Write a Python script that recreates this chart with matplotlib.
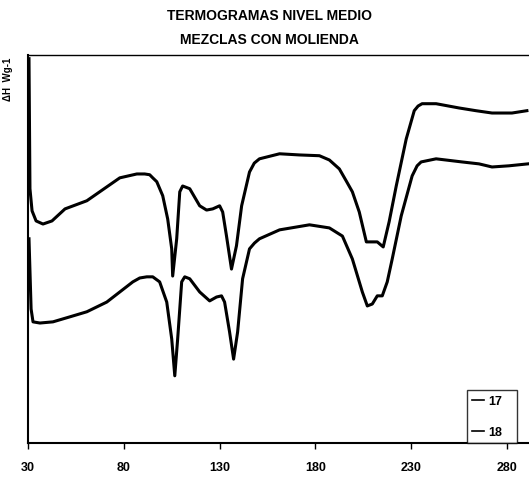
import matplotlib
matplotlib.use("Agg")
import matplotlib.pyplot as plt

temp_17 = [30.5, 31.0, 32.1, 34.2, 37.8, 42.5, 49.3, 60.7, 77.9, 86.8, 90.9, 93.5,
           95.1, 97.2, 100.3, 102.9, 105.0, 105.5, 107.6, 109.2, 110.7, 114.4,
           119.6, 123.2, 126.4, 130.0, 131.6, 133.6, 136.2, 138.8, 141.5, 145.6,
           148.1, 150.8, 161.3, 171.7, 182.1, 187.3, 192.5, 196.1, 199.3, 202.9,
           206.6, 209.7, 212.3, 215.4, 218.5, 222.2, 227.4, 231.6, 233.6, 235.7,
           243.0, 255.0, 263.8, 272.2, 282.6, 290.4]
dh_17 = [99.0, 65.5, 59.8, 57.2, 56.4, 57.2, 60.3, 62.4, 68.3, 69.3, 69.3, 69.1,
         68.3, 67.3, 63.7, 57.7, 50.0, 43.0, 52.6, 64.7, 66.2, 65.5,
         61.1, 60.0, 60.3, 61.1, 59.5, 53.3, 44.8, 50.8, 61.1, 69.8,
         72.1, 73.2, 74.5, 74.2, 74.0, 72.9, 70.6, 67.5, 64.7, 59.5,
         51.8, 51.8, 51.8, 50.5, 57.0, 66.2, 78.3, 85.6, 86.8, 87.4,
         87.4, 86.3, 85.6, 85.0, 85.0, 85.6]

temp_18 = [30.5, 31.6, 32.6, 36.2, 43.0, 51.9, 60.7, 71.1, 77.9, 84.7, 88.3, 92.0,
           95.1, 98.7, 102.4, 105.0, 106.6, 108.1, 110.2, 111.8, 114.4, 119.6,
           124.8, 128.4, 131.0, 132.6, 135.2, 137.3, 139.4, 142.0, 145.6, 148.2,
           150.8, 161.3, 176.9, 187.3, 194.1, 199.3, 204.5, 207.1, 209.7, 212.3,
           214.9, 217.5, 220.1, 224.8, 230.5, 233.1, 235.2, 243.0, 256.5, 265.4,
           272.2, 281.0, 290.9]
dh_18 = [52.6, 34.5, 31.2, 30.9, 31.2, 32.5, 33.8, 36.3, 38.9, 41.5, 42.5, 42.8,
         42.8, 41.5, 36.3, 26.8, 17.3, 26.8, 41.5, 42.8, 42.3, 38.9,
         36.6, 37.6, 37.9, 36.3, 28.6, 21.6, 28.6, 42.3, 50.0, 51.5,
         52.6, 54.9, 56.2, 55.4, 53.3, 47.4, 38.9, 35.3, 35.8, 37.9,
         37.9, 41.5, 47.4, 58.5, 68.8, 71.4, 72.4, 73.2, 72.4, 71.9,
         71.1, 71.4, 71.9]

x_ticks = [30, 80, 130, 180, 230, 280]
labels = ["17", "18"]

plt.rcParams['font.family'] = ['Liberation Sans Narrow', 'Liberation Sans', 'DejaVu Sans']

fig = plt.figure(figsize=(5.29, 4.81), dpi=100)
ax = fig.add_axes([0.053, 0.077, 0.947, 0.807])

ax.plot(temp_17, dh_17, color='black', linewidth=2.2, solid_joinstyle='round',
        label=labels[0])
ax.plot(temp_18, dh_18, color='black', linewidth=2.2, solid_joinstyle='round',
        label=labels[1])

ax.set_xlim(30, 291.5)
ax.set_ylim(0, 100)

ax.set_xticks(x_ticks)
ax.set_xticklabels([str(t) for t in x_ticks], fontweight='bold', fontsize=9)
ax.tick_params(axis='x', direction='out', length=4, width=1, pad=9)
ax.set_yticks([])

ax.spines['right'].set_visible(False)
ax.spines['left'].set_linewidth(1.5)
ax.spines['bottom'].set_linewidth(1.5)
ax.spines['top'].set_linewidth(1.0)

leg = ax.legend(loc='lower left', bbox_to_anchor=(0.876, 0.0, 0.1, 0.196),
                mode='expand', fancybox=False, frameon=True, handlelength=1.0,
                handletextpad=0.3, labelspacing=1.5, borderaxespad=0,
                prop={'weight': 'bold', 'size': 9})
leg.get_frame().set_edgecolor('black')
leg.get_frame().set_linewidth(1.0)
for line in leg.get_lines():
    line.set_linewidth(1.2)

fig.text(0.51, 0.966, "TERMOGRAMAS NIVEL MEDIO", ha='center', va='center',
         fontsize=10, fontweight='bold')
fig.text(0.51, 0.916, "MEZCLAS CON MOLIENDA", ha='center', va='center',
         fontsize=10, fontweight='bold')
fig.text(0.016, 0.835, "\u0394H  Wg-1", rotation=90, ha='center', va='center',
         fontsize=7, fontweight='bold')

fig.savefig("out.png", dpi=100)
